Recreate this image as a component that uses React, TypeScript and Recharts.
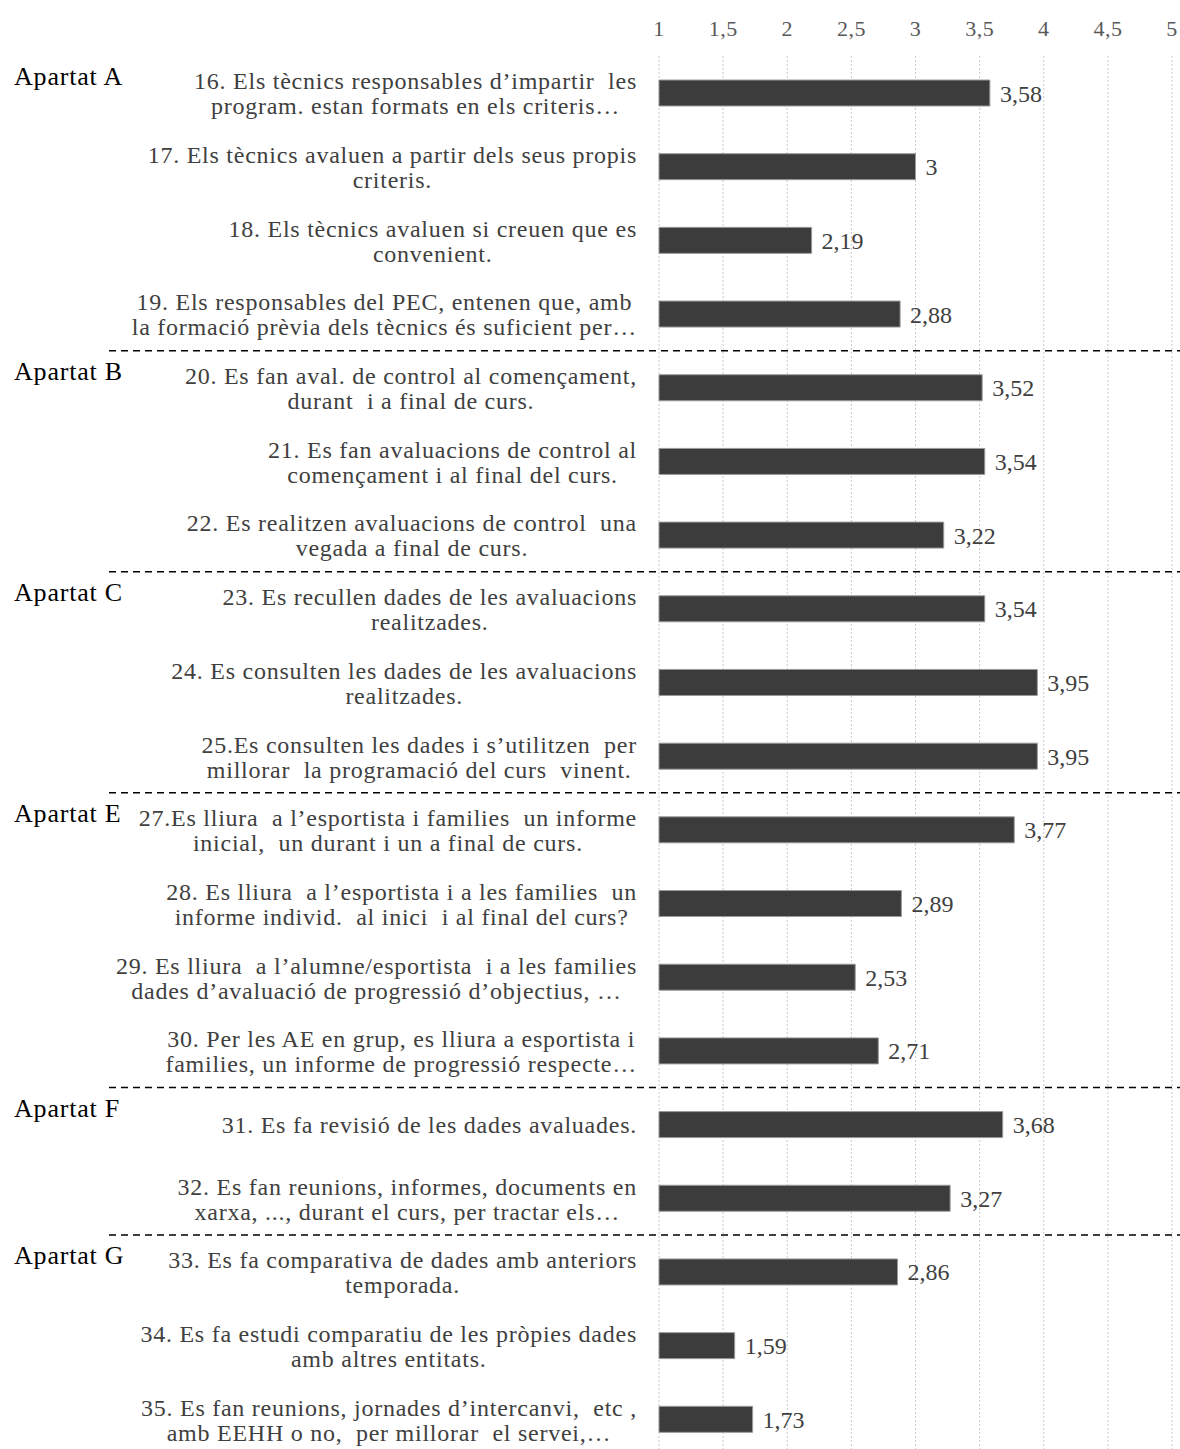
import React from 'react';
import { BarChart, Bar, XAxis, YAxis, CartesianGrid, LabelList } from 'recharts';

// item labels (two lines each, split on "\n")
const items = [
  '16. Els tècnics responsables d’impartir  les\nprogram. estan formats en els criteris…',
  '17. Els tècnics avaluen a partir dels seus propis\ncriteris.',
  '18. Els tècnics avaluen si creuen que es\nconvenient.',
  '19. Els responsables del PEC, entenen que, amb\nla formació prèvia dels tècnics és suficient per…',
  '20. Es fan aval. de control al començament,\ndurant  i a final de curs.',
  '21. Es fan avaluacions de control al\ncomençament i al final del curs.',
  '22. Es realitzen avaluacions de control  una\nvegada a final de curs.',
  '23. Es recullen dades de les avaluacions\nrealitzades.',
  '24. Es consulten les dades de les avaluacions\nrealitzades.',
  '25.Es consulten les dades i s’utilitzen  per\nmillorar  la programació del curs  vinent.',
  '27.Es lliura  a l’esportista i families  un informe\ninicial,  un durant i un a final de curs.',
  '28. Es lliura  a l’esportista i a les families  un\ninforme individ.  al inici  i al final del curs?',
  '29. Es lliura  a l’alumne/esportista  i a les families\ndades d’avaluació de progressió d’objectius, …',
  '30. Per les AE en grup, es lliura a esportista i\nfamilies, un informe de progressió respecte…',
  '31. Es fa revisió de les dades avaluades.',
  '32. Es fan reunions, informes, documents en\nxarxa, ..., durant el curs, per tractar els…',
  '33. Es fa comparativa de dades amb anteriors\ntemporada.',
  '34. Es fa estudi comparatiu de les pròpies dades\namb altres entitats.',
  '35. Es fan reunions, jornades d’intercanvi,  etc ,\namb EEHH o no,  per millorar  el servei,…',
];

const values = [3.58, 3, 2.19, 2.88, 3.52, 3.54, 3.22, 3.54, 3.95, 3.95, 3.77, 2.89, 2.53, 2.71, 3.68, 3.27, 2.86, 1.59, 1.73];

// section names and the index of the first item of each section
const sectionNames = ['Apartat A', 'Apartat B', 'Apartat C', 'Apartat E', 'Apartat F', 'Apartat G'];
const sectionStarts = [0, 4, 7, 10, 14, 16];

const xTicks = [1, 1.5, 2, 2.5, 3, 3.5, 4, 4.5, 5];

const data = items.map((label, i) => ({ label, value: values[i] }));

const FONT = "'Liberation Serif', 'DejaVu Serif', serif";
const LABEL_SIZE = 24;
const LS = 0.75;
const CHART_W = 1180;
const CHART_H = 1460;
const AXIS_H = 56;
const BOTTOM = 4;
const LABEL_RIGHT = 637;

const comma = (v: number) => String(v).replace('.', ',');

let ctx: CanvasRenderingContext2D | null = null;
const measure = (s: string) => {
  if (!ctx) {
    ctx = document.createElement('canvas').getContext('2d');
  }
  if (!ctx) return s.length * 11;
  ctx.font = `${LABEL_SIZE}px ${FONT}`;
  return ctx.measureText(s).width + s.length * LS;
};

const XTick = (props: any) => {
  const { x, payload } = props;
  return (
    <text x={x} y={36} textAnchor="middle" fill="#595959" style={{ fontFamily: FONT, fontSize: 22, letterSpacing: 0.5 }}>
      {comma(payload.value)}
    </text>
  );
};

const YTick = (props: any) => {
  const { y, payload, index } = props;
  const lines = String(payload.value).split('\n');
  const widest = Math.max(...lines.map(measure));
  const cx = LABEL_RIGHT - widest / 2;
  const band = (CHART_H - AXIS_H - BOTTOM) / items.length;
  const top = y - band / 2;
  const si = sectionStarts.indexOf(index);
  const lineH = 25;
  const firstBase = y + 9 - ((lines.length - 1) * lineH) / 2;
  return (
    <g>
      {si > 0 && (
        <line x1={109} x2={CHART_W} y1={top} y2={top} stroke="#000" strokeWidth={1.5} strokeDasharray="7 5" />
      )}
      {si >= 0 && (
        <text x={14} y={top + 29} fill="#000" style={{ fontFamily: FONT, fontSize: 26, letterSpacing: 0.8 }}>
          {sectionNames[si]}
        </text>
      )}
      {lines.map((ln, i) => (
        <text
          key={i}
          x={cx}
          y={firstBase + i * lineH}
          textAnchor="middle"
          fill="#404040"
          style={{ fontFamily: FONT, fontSize: LABEL_SIZE, letterSpacing: LS, whiteSpace: 'pre' }}
        >
          {ln}
        </text>
      ))}
    </g>
  );
};

export default function App() {
  return (
    <div style={{ position: 'absolute', left: 0, top: 0, width: CHART_W, height: 1449, overflow: 'hidden', background: '#fff', fontFamily: FONT }}>
      <BarChart
        width={CHART_W}
        height={CHART_H}
        data={data}
        layout="vertical"
        margin={{ top: 0, right: 8, bottom: BOTTOM, left: 0 }}
        barCategoryGap={0}
      >
        <CartesianGrid horizontal={false} stroke="#c8c8c8" strokeDasharray="2 2" />
        <XAxis
          type="number"
          orientation="top"
          domain={[1, 5]}
          ticks={xTicks}
          height={AXIS_H}
          axisLine={false}
          tickLine={false}
          tick={<XTick />}
          interval={0}
        />
        <YAxis
          type="category"
          dataKey="label"
          width={659}
          axisLine={false}
          tickLine={false}
          tick={<YTick />}
          interval={0}
        />
        <Bar dataKey="value" barSize={26} fill="#3c3c3c" stroke="#9a9a9a" strokeWidth={1} isAnimationActive={false}>
          <LabelList
            dataKey="value"
            position="right"
            offset={10}
            formatter={(v: any) => comma(v)}
            fill="#404040"
            style={{ fontFamily: FONT, fontSize: 24 }}
          />
        </Bar>
      </BarChart>
    </div>
  );
}
